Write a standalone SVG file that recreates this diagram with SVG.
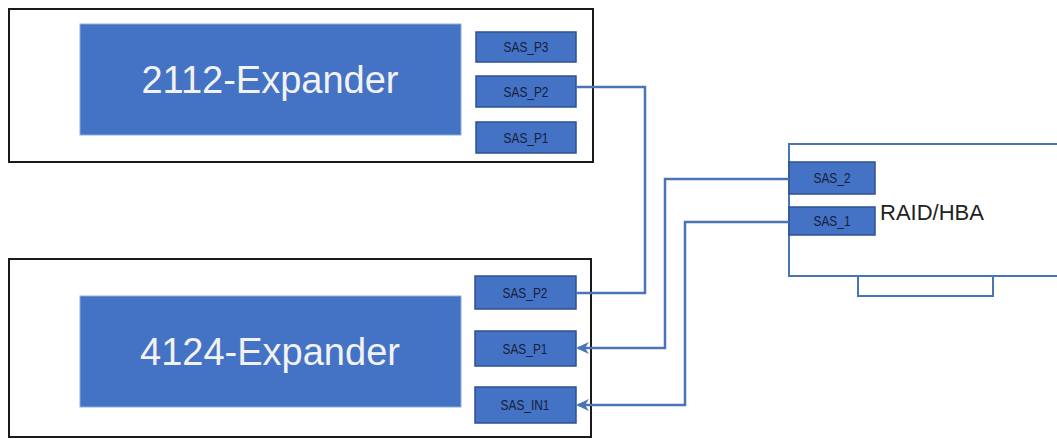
<svg xmlns="http://www.w3.org/2000/svg" width="1057" height="439" viewBox="0 0 1057 439">
<style>
.outer{fill:#fff;stroke:#1a1a1a;stroke-width:2}
.chip{fill:#4472C4;stroke:#8FAADC;stroke-width:1}
.chiptxt{font-family:"Liberation Sans","Noto Sans",sans-serif;font-size:38px;fill:#F2F2F2;text-anchor:middle}
.port{fill:#4472C4;stroke:#2F528F;stroke-width:1.5}
.porttxt{font-family:"Liberation Sans","Noto Sans",sans-serif;font-size:14px;fill:#16203A;text-anchor:middle}
.card{fill:#fff;stroke:#4A74B8;stroke-width:2}
.wire{fill:none;stroke:#4A74B8;stroke-width:2.5}
.lbl{font-family:"Liberation Sans","Noto Sans",sans-serif;font-size:22px;fill:#222}
</style>
<defs>
<marker id="arr" markerWidth="14" markerHeight="14" refX="11" refY="7" orient="auto" markerUnits="userSpaceOnUse">
<path d="M0,1 L13,7 L0,13 L4,7 Z" fill="#4A74B8"/>
</marker>
</defs>
<g id="expander2112">
<rect class="outer" x="9" y="9" width="584" height="153"/>
<rect class="chip" x="80" y="24" width="381" height="111"/>
<text class="chiptxt" x="270" y="93">2112-Expander</text>
</g>
<g id="p3top"><rect class="port" x="476" y="32" width="100" height="30"/><text class="porttxt" x="526" y="52" transform="translate(526 0) scale(0.85 1) translate(-526 0)">SAS_P3</text></g>
<g id="p2top"><rect class="port" x="476" y="76" width="100" height="31"/><text class="porttxt" x="526" y="97" transform="translate(526 0) scale(0.85 1) translate(-526 0)">SAS_P2</text></g>
<g id="p1top"><rect class="port" x="476" y="122" width="100" height="31"/><text class="porttxt" x="526" y="143" transform="translate(526 0) scale(0.85 1) translate(-526 0)">SAS_P1</text></g>
<g id="expander4124">
<rect class="outer" x="9" y="259" width="582" height="178"/>
<rect class="chip" x="80" y="296" width="381" height="111"/>
<text class="chiptxt" x="270" y="365">4124-Expander</text>
</g>
<g id="p2bot"><rect class="port" x="475" y="276" width="101" height="33"/><text class="porttxt" x="525" y="298" transform="translate(525 0) scale(0.85 1) translate(-525 0)">SAS_P2</text></g>
<g id="p1bot"><rect class="port" x="475" y="331" width="101" height="35"/><text class="porttxt" x="525" y="354" transform="translate(525 0) scale(0.85 1) translate(-525 0)">SAS_P1</text></g>
<g id="in1bot"><rect class="port" x="475" y="387" width="101" height="36"/><text class="porttxt" x="525" y="410" transform="translate(525 0) scale(0.85 1) translate(-525 0)">SAS_IN1</text></g>
<g id="raidhba">
<rect class="card" x="858" y="276" width="135" height="20"/>
<rect class="card" x="789" y="144" width="280" height="132"/>
<text class="lbl" x="880" y="220">RAID/HBA</text>
</g>
<g id="sas2"><rect class="port" x="789" y="162" width="86" height="32"/><text class="porttxt" x="832" y="183" transform="translate(832 0) scale(0.85 1) translate(-832 0)">SAS_2</text></g>
<g id="sas1"><rect class="port" x="789" y="207" width="86" height="28"/><text class="porttxt" x="832" y="226" transform="translate(832 0) scale(0.85 1) translate(-832 0)">SAS_1</text></g>
<g id="connectors">
<polyline class="wire" points="576,87 645,87 645,293 576,293"/>
<polyline class="wire" points="789,179 665,179 665,348 578,348" marker-end="url(#arr)"/>
<polyline class="wire" points="789,222 685,222 685,405 578,405" marker-end="url(#arr)"/>
</g>
</svg>
